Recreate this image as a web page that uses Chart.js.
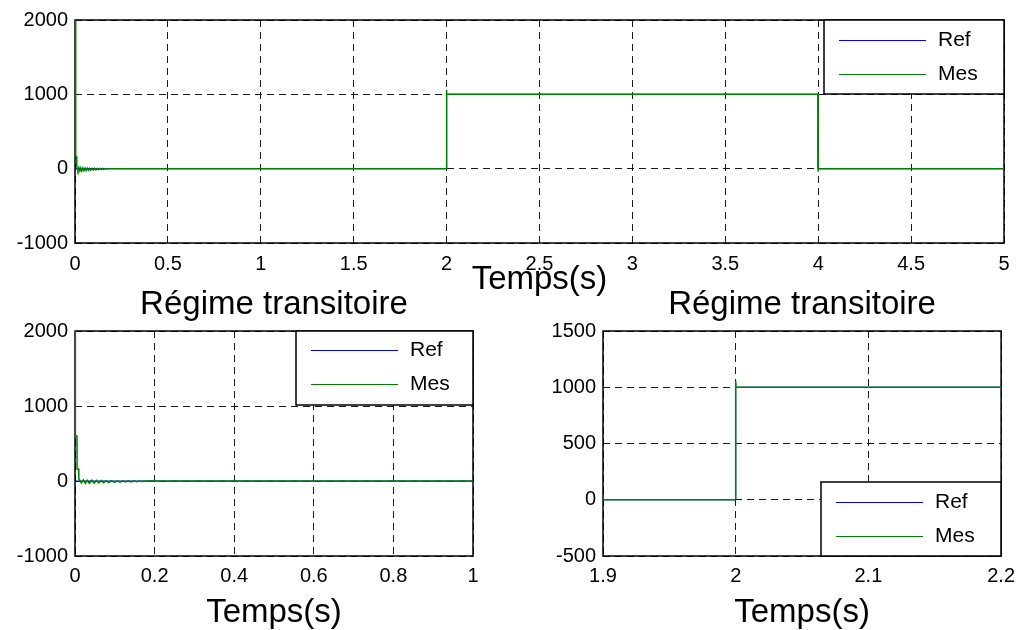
<!DOCTYPE html>
<html>
<head>
<meta charset="utf-8">
<title>Réponse du système</title>
<script src="https://cdn.jsdelivr.net/npm/chart.js@4.4.1/dist/chart.umd.min.js"></script>
<style>
  html, body { margin: 0; padding: 0; background: #fff; }
  body { width: 1023px; height: 630px; position: relative; overflow: hidden; }
  canvas { position: absolute; }
</style>
</head>
<body>
<canvas id="cTop" width="1023" height="310" style="left:0;top:0"></canvas>
<canvas id="cLeft" width="520" height="363" style="left:0;top:270px"></canvas>
<canvas id="cRight" width="503" height="363" style="left:520px;top:270px"></canvas>
<script>
// Series names and axis texts
const seriesNames = ['Ref', 'Mes'];
const timeLabel = 'Temps(s)';
const zoomTitle = 'Régime transitoire';

// Reference signal (s, value)
const refTime  = [0, 2, 2, 4, 4, 5];
const refValue = [0, 0, 1000, 1000, 0, 0];

// Measured signal (s, value): start-up transient, then the two steps
const mesTime = [0, 0.001, 0.005, 0.0052, 0.009, 0.0095, 0.012, 0.016, 0.021, 0.026, 0.031,
  0.036, 0.042, 0.048, 0.054, 0.060, 0.066, 0.072, 0.078, 0.085, 0.092, 0.099, 0.106,
  0.113, 0.120, 0.127, 0.134, 0.141, 0.148, 0.155, 0.162, 0.169, 0.176,
  2, 2, 2.0003, 4, 4, 4.0003, 5];
const mesValue = [2600, 600, 600, 160, 160, 30, 10, -25, 15, -30, 10,
  -30, 10, -28, 8, -25, 6, -22, 5, -20, 4, -18, 3,
  -16, 3, -14, 2, -12, 2, -10, 1, -8, 0,
  0, 1060, 1000, 1000, -40, 0, 0];

// Tick values for each panel
const topXTicks   = [0, 0.5, 1, 1.5, 2, 2.5, 3, 3.5, 4, 4.5, 5];
const topYTicks   = [-1000, 0, 1000, 2000];
const leftXTicks  = [0, 0.2, 0.4, 0.6, 0.8, 1];
const leftYTicks  = [-1000, 0, 1000, 2000];
const rightXTicks = [1.9, 2, 2.1, 2.2];
const rightYTicks = [-500, 0, 500, 1000, 1500];

const FONT = '"Liberation Sans", Arial, Helvetica, sans-serif';
Chart.defaults.font.family = FONT;
Chart.defaults.color = '#000';

const toPoints = (xs, ys) => xs.map((x, i) => ({ x: x, y: ys[i] }));

// Solid box around the plotting area, under the curves
const frameBox = {
  id: 'frameBox',
  beforeDatasetsDraw(chart) {
    const { ctx, chartArea: a } = chart;
    ctx.save();
    ctx.strokeStyle = '#000';
    ctx.lineWidth = 1.5;
    ctx.strokeRect(a.left, a.top, a.right - a.left, a.bottom - a.top);
    ctx.restore();
  }
};

// Boxed legend sitting in a corner of the plotting area
const boxLegend = {
  id: 'boxLegend',
  afterDraw(chart, args, opts) {
    const { ctx, chartArea: a } = chart;
    const w = opts.width, h = 74;
    const x = Math.round(a.right - w);
    const y = Math.round(opts.corner === 'bottom' ? a.bottom - h : a.top);
    ctx.save();
    ctx.fillStyle = '#fff';
    ctx.fillRect(x, y, w, h);
    ctx.strokeStyle = '#000';
    ctx.lineWidth = 1.5;
    ctx.strokeRect(x, y, w, h);
    ctx.font = '21px ' + FONT;
    ctx.textBaseline = 'middle';
    chart.data.datasets.forEach((ds, i) => {
      const ry = Math.round(y + opts.row + i * 33.5) + 0.5;
      ctx.strokeStyle = ds.borderColor;
      ctx.lineWidth = 1;
      ctx.beginPath();
      ctx.moveTo(x + 15, ry);
      ctx.lineTo(x + 102, ry);
      ctx.stroke();
      ctx.fillStyle = '#000';
      ctx.fillText(ds.label, x + 114, ry);
    });
    ctx.restore();
  }
};

function datasets() {
  return [
    { label: seriesNames[0], data: toPoints(refTime, refValue), borderColor: '#0000ff',
      borderWidth: 1, pointRadius: 0, tension: 0, order: 1 },
    { label: seriesNames[1], data: toPoints(mesTime, mesValue), borderColor: '#008000',
      borderWidth: 1.5, pointRadius: 0, tension: 0, order: 0 }
  ];
}

function axis(cfg) {
  const grid = { color: '#1a1a1a', lineWidth: 1, drawTicks: false };
  const border = { display: false, dash: [7, 5] };
  return {
    x: {
      type: 'linear', min: cfg.xTicks[0], max: cfg.xTicks[cfg.xTicks.length - 1],
      afterBuildTicks: s => { s.ticks = cfg.xTicks.map(v => ({ value: v })); },
      afterFit: s => { s.height = cfg.xHeight; },
      grid: grid, border: border,
      ticks: { autoSkip: false, maxRotation: 0, padding: cfg.xPad, font: { size: 20 },
               callback: v => String(v) },
      title: { display: true, text: timeLabel, font: { size: 33 },
               padding: { top: 0, bottom: cfg.titlePad } }
    },
    y: {
      type: 'linear', min: cfg.yTicks[0], max: cfg.yTicks[cfg.yTicks.length - 1],
      afterBuildTicks: s => { s.ticks = cfg.yTicks.map(v => ({ value: v })); },
      afterFit: s => { s.width = cfg.yWidth; },
      grid: grid, border: border,
      ticks: { autoSkip: false, padding: 7, font: { size: 20 }, callback: v => String(v) }
    }
  };
}

function makeChart(id, cfg) {
  return new Chart(document.getElementById(id), {
    type: 'line',
    data: { datasets: datasets() },
    options: {
      responsive: false,
      animation: false,
      events: [],
      layout: { padding: cfg.padding },
      plugins: {
        legend: { display: false },
        tooltip: { enabled: false },
        title: cfg.title
          ? { display: true, text: cfg.title, fullSize: false, font: { size: 33, weight: 'normal' },
              color: '#000', padding: { top: 0, bottom: 6.4 } }
          : { display: false },
        boxLegend: cfg.legend
      },
      scales: axis(cfg)
    },
    plugins: [frameBox, boxLegend]
  });
}

// Full run, 0 to 5 s
makeChart('cTop', {
  xTicks: topXTicks, yTicks: topYTicks, xHeight: 67, yWidth: 75, xPad: 9, titlePad: 9.8,
  padding: { left: 0, top: 20, right: 19, bottom: 0 },
  legend: { width: 180, corner: 'top', row: 20 }
});

// Start-up transient, 0 to 1 s
makeChart('cLeft', {
  xTicks: leftXTicks, yTicks: leftYTicks, xHeight: 77, yWidth: 75, xPad: 8, titlePad: 0,
  padding: { left: 0, top: 15, right: 47, bottom: 0 },
  title: zoomTitle,
  legend: { width: 177, corner: 'top', row: 19 }
});

// Step at 2 s
makeChart('cRight', {
  xTicks: rightXTicks, yTicks: rightYTicks, xHeight: 77, yWidth: 83, xPad: 8, titlePad: 0,
  padding: { left: 0, top: 15, right: 18, bottom: 0 },
  title: zoomTitle,
  legend: { width: 180, corner: 'bottom', row: 20 }
});
</script>
</body>
</html>
